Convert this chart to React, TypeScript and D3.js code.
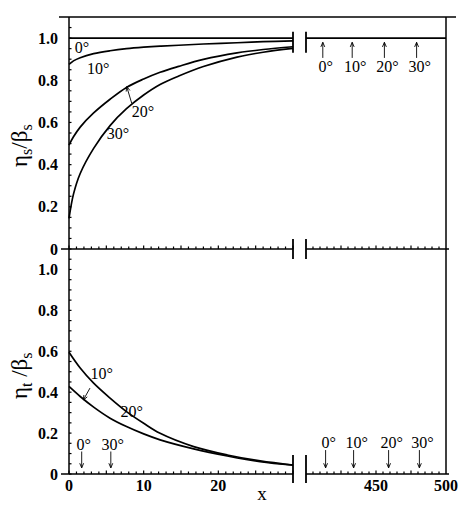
import React from 'react';
import * as d3 from 'd3';

// x positions (left panel, 0..30)
const xUpper = [0, 0.6, 1.5, 3.3, 5.5, 7.7, 10, 12.2, 14.7, 18, 22.5, 26, 30];
const etaS10 = [0.875, 0.892, 0.907, 0.926, 0.94, 0.95, 0.957, 0.962, 0.966, 0.972, 0.978, 0.983, 0.987];
const etaS20 = [0.493, 0.532, 0.578, 0.645, 0.71, 0.766, 0.806, 0.838, 0.866, 0.899, 0.93, 0.946, 0.959];
const etaS30 = [0.145, 0.26, 0.358, 0.477, 0.585, 0.665, 0.73, 0.78, 0.82, 0.865, 0.91, 0.933, 0.951];
const etaS0 = [1, 1, 1, 1, 1, 1, 1, 1, 1, 1, 1, 1, 1];

const xLower = [0, 1.5, 3.3, 5.5, 7.7, 10, 12.2, 16.7, 21.2, 25.6, 30];
const etaT20 = [0.595, 0.518, 0.444, 0.371, 0.305, 0.248, 0.199, 0.134, 0.093, 0.064, 0.044];
const etaT10 = [0.428, 0.379, 0.327, 0.273, 0.232, 0.196, 0.167, 0.123, 0.088, 0.06, 0.043];

const yTickVals = [0, 0.2, 0.4, 0.6, 0.8, 1.0];
const yTickText = ['0', '0.2', '0.4', '0.6', '0.8', '1.0'];
const xLeftTicks = [0, 10, 20];
const xRightTicks = [450, 500];
const angles = ['0°', '10°', '20°', '30°'];
// where the far-field arrows sit on the right panel
const farTop = [412, 433, 456, 479];
const farBottom = [414, 434, 459, 481];
// near-field arrows for the curves that lie on the axis (0° and 30°)
const nearBottom = [1.7, 5.6];

const xLeft = d3.scaleLinear().domain([0, 30]).range([69, 293]);
const xRight = d3.scaleLinear().domain([400, 500]).range([306, 446]);
const yTop = d3.scaleLinear().domain([0, 1.1]).range([249, 17]);
const yBot = d3.scaleLinear().domain([0, 1.1]).range([474, 249]);

const serif = "'Liberation Serif', 'Times New Roman', 'DejaVu Serif', serif";

function Arrow({ x1, y1, x2, y2 }: { x1: number; y1: number; x2: number; y2: number }) {
  const a = Math.atan2(y2 - y1, x2 - x1);
  const L = 5, w = 0.4;
  const p1 = [x2 - L * Math.cos(a - w), y2 - L * Math.sin(a - w)];
  const p2 = [x2 - L * Math.cos(a + w), y2 - L * Math.sin(a + w)];
  return (
    <g stroke="#000" strokeWidth={0.9} fill="none">
      <line x1={x1} y1={y1} x2={x2} y2={y2} />
      <path d={`M${p1[0]},${p1[1]}L${x2},${y2}L${p2[0]},${p2[1]}`} />
    </g>
  );
}

function App() {
  const lineTop = d3.line<number>().x((_, i) => xLeft(xUpper[i])).y(d => yTop(d)).curve(d3.curveCatmullRom.alpha(0.5));
  const lineBot = d3.line<number>().x((_, i) => xLeft(xLower[i])).y(d => yBot(d)).curve(d3.curveCatmullRom.alpha(0.5));

  const leftMinor = d3.range(0, 31, 1);
  const rightMinor = d3.range(405, 500, 5);
  const yMinor = d3.range(0, 1.1, 0.05);

  const axisX = (y: number, key: string) => (
    <g key={key}>
      <line x1={61} x2={xLeft(30)} y1={y} y2={y} />
      <line x1={xRight(400)} x2={449} y1={y} y2={y} />
      {leftMinor.map(t => (
        <line key={'l' + t} x1={xLeft(t)} x2={xLeft(t)} y1={y} y2={y - (t % 5 === 0 ? 3.5 : 2.5)} strokeWidth={1.2} />
      ))}
      {rightMinor.map(t => (
        <line key={'r' + t} x1={xRight(t)} x2={xRight(t)} y1={y} y2={y - (t % 25 === 0 ? 3.5 : 2.5)} strokeWidth={1.2} />
      ))}
    </g>
  );

  const yAxisTicks = (scale: d3.ScaleLinear<number, number>, key: string) => (
    <g key={key}>
      {yMinor.map((t, i) => (
        <line key={i} x1={69} x2={69 + 2.5} y1={scale(t)} y2={scale(t)} strokeWidth={1.2} />
      ))}
    </g>
  );

  const tickLabels = (scale: d3.ScaleLinear<number, number>, key: string) => (
    <g key={key} style={{ fontFamily: serif, fontWeight: 'bold', fontSize: 16 }} textAnchor="end">
      {yTickVals.map((v, i) => (
        <text key={i} x={58} y={scale(v) + 5.5} fill="#000">{yTickText[i]}</text>
      ))}
    </g>
  );

  return (
    <svg width={469} height={505} style={{ position: 'absolute', left: 0, top: 0, background: '#fff' }}>
      <g stroke="#000" strokeWidth={1.5} fill="none">
        {/* frame */}
        <line x1={59} x2={456} y1={17} y2={17} />
        <line x1={69} x2={69} y1={17} y2={474} />
        <line x1={446} x2={446} y1={17} y2={474} />
        {axisX(yTop(0), 'mid')}
        {axisX(yBot(0), 'bot')}
        {yAxisTicks(yTop, 'yt')}
        {yAxisTicks(yBot, 'yb')}
        {/* axis break marks */}
        {[xLeft(30), xRight(400)].map((x, i) => (
          <g key={i} strokeWidth={1.8}>
            <line x1={x} x2={x} y1={yTop(1.03)} y2={yTop(0.93)} />
            <line x1={x} x2={x} y1={yTop(0) - 10} y2={yTop(0) + 10} />
            <line x1={x} x2={x} y1={yBot(0.093)} y2={yBot(0) + 9} />
          </g>
        ))}
        {/* curves */}
        <g strokeWidth={1.7}>
          <path d={lineTop(etaS0) || ''} />
          <line x1={xRight(400)} x2={xRight(500)} y1={yTop(1)} y2={yTop(1)} />
          <path d={lineTop(etaS10) || ''} />
          <path d={lineTop(etaS20) || ''} />
          <path d={lineTop(etaS30) || ''} />
          <path d={lineBot(etaT20) || ''} />
          <path d={lineBot(etaT10) || ''} />
        </g>
      </g>

      {tickLabels(yTop, 'lt')}
      {tickLabels(yBot, 'lb')}

      <g style={{ fontFamily: serif, fontWeight: 'bold', fontSize: 16 }} textAnchor="middle">
        {xLeftTicks.map(t => (
          <text key={t} x={xLeft(t)} y={491}>{t}</text>
        ))}
        {xRightTicks.map(t => (
          <text key={t} x={xRight(t)} y={491}>{t}</text>
        ))}
      </g>

      <g style={{ fontFamily: serif, fontSize: 23 }} textAnchor="middle">
        <text transform={`translate(27,${yTop(0.49)}) rotate(-90)`}>
          η<tspan style={{ fontSize: 16 }} dy={5}>s</tspan>
          <tspan dy={-5}>/β</tspan>
          <tspan style={{ fontSize: 16 }} dy={5}>s</tspan>
        </text>
        <text transform={`translate(27,${yBot(0.48)}) rotate(-90)`}>
          η<tspan style={{ fontSize: 16 }} dy={5}>t</tspan>
          <tspan dy={-5}> /β</tspan>
          <tspan style={{ fontSize: 16 }} dy={5}>s</tspan>
        </text>
        <text x={262} y={500} style={{ fontSize: 19 }}>x</text>
      </g>

      {/* angle annotations */}
      <g style={{ fontFamily: serif, fontSize: 16 }} textAnchor="middle">
        <text x={xLeft(1.74)} y={yTop(0.957) + 5.5}>0°</text>
        <text x={xLeft(3.9)} y={yTop(0.858) + 5.5}>10°</text>
        <text x={xLeft(9.9)} y={yTop(0.65) + 5.5}>20°</text>
        <text x={xLeft(6.56)} y={yTop(0.55) + 5.5}>30°</text>
        <text x={xLeft(4.38)} y={yBot(0.49) + 5.5}>10°</text>
        <text x={xLeft(8.4)} y={yBot(0.305) + 5.5}>20°</text>
        {nearBottom.map((x, i) => (
          <text key={'nb' + i} x={xLeft(x) + 2} y={yBot(0.142) + 5.5}>{angles[i === 0 ? 0 : 3]}</text>
        ))}
        {farTop.map((x, i) => (
          <text key={'ft' + i} x={xRight(x) + 3} y={yTop(0.863) + 5.5}>{angles[i]}</text>
        ))}
        {farBottom.map((x, i) => (
          <text key={'fb' + i} x={xRight(x) + 3} y={yBot(0.156) + 5.5}>{angles[i]}</text>
        ))}
      </g>

      <Arrow x1={xLeft(8.4)} y1={yTop(0.691)} x2={xLeft(7.73)} y2={yTop(0.77)} />
      <Arrow x1={xLeft(2.81)} y1={yBot(0.42)} x2={xLeft(1.92)} y2={yBot(0.362)} />
      {nearBottom.map((x, i) => (
        <Arrow key={'anb' + i} x1={xLeft(x)} y1={yBot(0.11)} x2={xLeft(x)} y2={yBot(0.03)} />
      ))}
      {farTop.map((x, i) => (
        <Arrow key={'aft' + i} x1={xRight(x)} y1={yTop(0.906)} x2={xRight(x)} y2={yTop(0.98)} />
      ))}
      {farBottom.map((x, i) => (
        <Arrow key={'afb' + i} x1={xRight(x)} y1={yBot(0.117)} x2={xRight(x)} y2={yBot(0.03)} />
      ))}
    </svg>
  );
}

export default App;
